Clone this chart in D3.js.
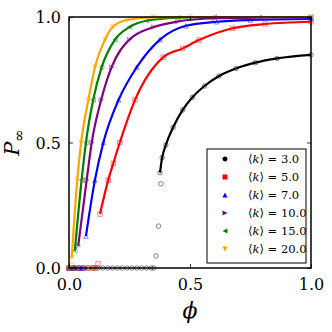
<!DOCTYPE html>
<html><head><meta charset="utf-8">
<script src="https://cdn.jsdelivr.net/npm/d3@7"></script>
<style>
html,body{margin:0;padding:0;background:#fff;}
svg{display:block;}
text{font-family:"DejaVu Serif",serif;}
</style></head>
<body><svg id="c" width="332" height="332"></svg>
<script>
// ---- data ----
const seriesNames = ["3.0","5.0","7.0","10.0","15.0","20.0"];
const seriesColors = ["#000000","#ff0000","#0000ff","#800080","#008000","#ffa500"];
const seriesSymbols = ["circle","square","up","right","left","down"];
// theory curve (and simulation markers on it): phi, P
const k3phi  = [0.376,0.385,0.40,0.43,0.47,0.51,0.56,0.62,0.69,0.77,0.86,1.0];
const k3P    = [0.38,0.44,0.49,0.56,0.63,0.68,0.725,0.765,0.795,0.818,0.835,0.849];
const k5phi  = [0.128,0.162,0.183,0.21,0.273,0.39,0.47,0.537,0.676,0.81,1.0];
const k5P    = [0.215,0.35,0.417,0.50,0.67,0.84,0.875,0.908,0.955,0.972,0.981];
const k7phi  = [0.07,0.107,0.142,0.205,0.28,0.376,0.483,0.61,0.75,1.0];
const k7P    = [0.127,0.35,0.50,0.67,0.80,0.91,0.965,0.981,0.988,0.992];
const k10phi = [0.038,0.073,0.094,0.133,0.176,0.25,0.35,0.45,0.6,0.8,1.0];
const k10P   = [0.088,0.35,0.50,0.67,0.80,0.91,0.96,0.982,0.995,0.998,0.999];
const k15phi = [0.024,0.052,0.07,0.10,0.135,0.19,0.25,0.32,0.45,0.6,1.0];
const k15P   = [0.068,0.35,0.50,0.67,0.80,0.91,0.96,0.985,0.997,1.0,1.0];
const k20phi = [0.011,0.034,0.05,0.08,0.107,0.149,0.18,0.24,0.35,0.5,1.0];
const k20P   = [0.04,0.35,0.50,0.67,0.80,0.91,0.96,0.988,0.998,1.0,1.0];
// simulation markers below / at the transition
const k3lowPhi  = [0.0,0.02,0.04,0.06,0.08,0.10,0.12,0.14,0.16,0.18,0.20,0.22,0.24,0.26,0.28,0.30,0.32,0.34,0.35,0.36,0.37,0.38];
const k3lowP    = [0,0,0,0,0,0,0,0,0,0,0,0,0,0,0,0,0,0,0,0.048,0.167,0.335];
const k5lowPhi  = [0.0,0.02,0.04,0.06,0.08,0.10,0.11,0.12];
const k5lowP    = [0,0,0,0,0,0,0,0.016];
const k7lowPhi  = [0.0,0.02,0.04,0.05,0.06];
const k7lowP    = [0,0,0,0,0];
const k10lowPhi = [0.0,0.01,0.02,0.03];
const k10lowP   = [0,0,0,0];
const k15lowPhi = [0.0,0.01,0.02];
const k15lowP   = [0,0,0];
const k20lowPhi = [0.0,0.01];
const k20lowP   = [0,0.01];
const xTicks = [0,0.5,1.0];
const yTicks = [0,0.5,1.0];

const curves = [[k3phi,k3P],[k5phi,k5P],[k7phi,k7P],[k10phi,k10P],[k15phi,k15P],[k20phi,k20P]];
const lows = [[k3lowPhi,k3lowP],[k5lowPhi,k5lowP],[k7lowPhi,k7lowP],[k10lowPhi,k10lowP],[k15lowPhi,k15lowP],[k20lowPhi,k20lowP]];

// ---- layout ----
const svg = d3.select("#c");
const L=69,R=311,T=17,B=268;
const x = d3.scaleLinear().domain([0,1]).range([L,R]);
const y = d3.scaleLinear().domain([0,1]).range([B,T]);

function symPath(type,s){
  const h=s/2;
  switch(type){
    case "circle": return d3.symbol(d3.symbolCircle, s*s*0.785)();
    case "square": return `M${-h},${-h}H${h}V${h}H${-h}Z`;
    case "up": return `M0,${-h}L${h},${h}L${-h},${h}Z`;
    case "down": return `M0,${h}L${h},${-h}L${-h},${-h}Z`;
    case "right": return `M${h},0L${-h},${h}L${-h},${-h}Z`;
    case "left": return `M${-h},0L${h},${h}L${h},${-h}Z`;
  }
}

const plot = svg.append("g");
// markers first
curves.forEach((c,i)=>{
  const pts = c[0].map((p,j)=>[p,c[1][j]]).concat(lows[i][0].map((p,j)=>[p,lows[i][1][j]]));
  plot.append("g").selectAll("path").data(pts).join("path")
    .attr("d",symPath(seriesSymbols[i],4.5))
    .attr("transform",d=>`translate(${x(d[0])},${y(d[1])})`)
    .attr("fill","none").attr("stroke",seriesColors[i]).attr("stroke-width",0.8).attr("opacity",0.6);
});
// lines
const line = d3.line().x(d=>x(d[0])).y(d=>y(d[1])).curve(d3.curveMonotoneX);
curves.forEach((c,i)=>{
  const pts = c[0].map((p,j)=>[p,c[1][j]]);
  plot.append("path").datum(pts).attr("d",line)
    .attr("fill","none").attr("stroke",seriesColors[i]).attr("stroke-width",2.2);
});

// axes
const fmt = d3.format(".1f");
const gx = svg.append("g").attr("transform",`translate(0,${B})`)
  .call(d3.axisBottom(x).tickValues(xTicks).tickFormat(fmt).tickSize(-4).tickPadding(11));
const gy = svg.append("g").attr("transform",`translate(${L},0)`)
  .call(d3.axisLeft(y).tickValues(yTicks).tickFormat(fmt).tickSize(-4).tickPadding(8));
const gt = svg.append("g").attr("transform",`translate(0,${T})`)
  .call(d3.axisTop(x).tickValues(xTicks).tickFormat("").tickSize(-4));
const gr = svg.append("g").attr("transform",`translate(${R},0)`)
  .call(d3.axisRight(y).tickValues(yTicks).tickFormat("").tickSize(-4));
[gx,gy,gt,gr].forEach(g=>{
  g.select(".domain").remove();
  g.selectAll("text").attr("font-family","DejaVu Serif").attr("font-size",16).attr("fill","#000");
  g.selectAll("line").attr("stroke","#000").attr("stroke-width",0.8);
});
gy.selectAll("text").attr("dy","0.35em");
svg.append("rect").attr("x",L).attr("y",T).attr("width",R-L).attr("height",B-T)
  .attr("fill","none").attr("stroke","#000").attr("stroke-width",1.5);

// axis labels
svg.append("text").attr("x",x(0.5)).attr("y",318).attr("text-anchor","middle")
  .attr("font-size",22).attr("font-style","italic").text("ϕ");
const yl = svg.append("text").attr("transform",`translate(19,${(T+B)/2}) rotate(-90)`)
  .attr("text-anchor","middle").attr("font-size",21).attr("font-style","italic");
yl.append("tspan").text("P");
yl.append("tspan").attr("font-size",15).attr("dy",5).attr("font-style","normal").text("∞");

// legend
const lg = svg.append("g");
lg.append("rect").attr("x",207).attr("y",149).attr("width",99).attr("height",114)
  .attr("fill","#fff").attr("stroke","#000").attr("stroke-width",1);
seriesNames.forEach((n,i)=>{
  const yy = 159 + i*18;
  lg.append("path").attr("d",symPath(seriesSymbols[i],5)).attr("transform",`translate(225,${yy})`)
    .attr("fill",seriesColors[i]).attr("stroke","none");
  const t = lg.append("text").attr("x",248).attr("y",yy).attr("dy","0.35em").attr("font-size",11.5);
  t.append("tspan").text("⟨");
  t.append("tspan").attr("font-style","italic").text("k");
  t.append("tspan").text("⟩ = " + n);
});
</script></body></html>
